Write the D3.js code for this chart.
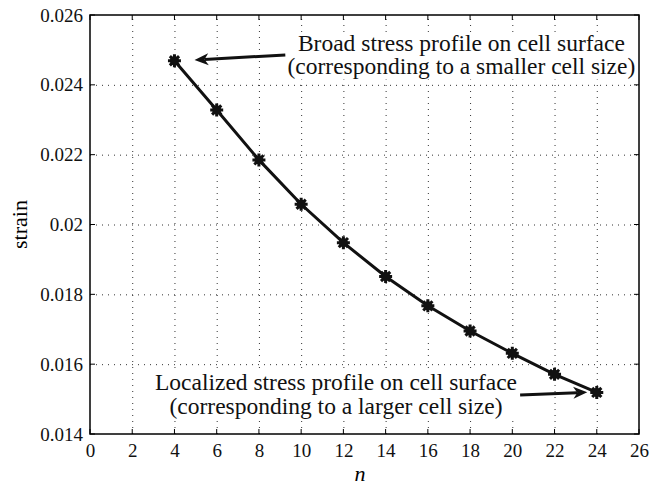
<!DOCTYPE html>
<html>
<head>
<meta charset="utf-8">
<script src="https://cdn.jsdelivr.net/npm/d3@7"></script>
<style>
  body { margin: 0; background: #fff; }
  svg text { font-family: "Liberation Serif", "DejaVu Serif", serif; }
</style>
</head>
<body>
<svg id="chart"></svg>
<script>
// chart values
const nValues = [4, 6, 8, 10, 12, 14, 16, 18, 20, 22, 24];
const strainValues = [0.02469, 0.02328, 0.02185, 0.02058, 0.01948, 0.01851, 0.01767, 0.01695, 0.01631, 0.01571, 0.01519];
const xTicks = d3.range(0, 27, 2);
const yTicks = [0.014, 0.016, 0.018, 0.02, 0.022, 0.024, 0.026];
const yTickLabels = ["0.014", "0.016", "0.018", "0.02", "0.022", "0.024", "0.026"];

// annotations (data units): text centre x, first baseline y, arrow start -> tip
const notes = [
  { lines: ["Broad stress profile on cell surface", "(corresponding to a smaller cell size)"],
    cx: 17.59, top: 0.02497, from: [9.25, 0.024855], to: [4.95, 0.02471] },
  { lines: ["Localized stress profile on cell surface", "(corresponding to a larger cell size)"],
    cx: 11.65, top: 0.01526, from: [20.37, 0.015117], to: [23.55, 0.015194] }
];

const width = 663, height = 485;
const margin = { top: 15, right: 24, bottom: 51, left: 90 };
const serif = "Liberation Serif, DejaVu Serif, serif";

const svg = d3.select("#chart").attr("width", width).attr("height", height);

const x = d3.scaleLinear().domain([0, 26]).range([margin.left, width - margin.right]);
const y = d3.scaleLinear().domain([0.014, 0.026]).range([height - margin.bottom, margin.top]);

const x0 = x.range()[0], x1 = x.range()[1];
const y0 = y.range()[0], y1 = y.range()[1];

// grid
const grid = svg.append("g")
  .attr("stroke", "#333")
  .attr("stroke-width", 1)
  .attr("stroke-dasharray", "1,5");
grid.selectAll(".gx").data(xTicks.slice(1, -1)).join("line")
  .attr("x1", d => x(d) + 0.5).attr("x2", d => x(d) + 0.5)
  .attr("y1", y0).attr("y2", y1);
grid.selectAll(".gy").data(yTicks.slice(1, -1)).join("line")
  .attr("y1", d => y(d) + 0.5).attr("y2", d => y(d) + 0.5)
  .attr("x1", x0).attr("x2", x1);

// inner ticks on all sides
const tickLen = 5;
const ticks = svg.append("g").attr("stroke", "#000").attr("stroke-width", 1);
xTicks.forEach(d => {
  ticks.append("line").attr("x1", x(d)).attr("x2", x(d)).attr("y1", y0).attr("y2", y0 - tickLen);
  ticks.append("line").attr("x1", x(d)).attr("x2", x(d)).attr("y1", y1).attr("y2", y1 + tickLen);
});
yTicks.forEach(d => {
  ticks.append("line").attr("y1", y(d)).attr("y2", y(d)).attr("x1", x0).attr("x2", x0 + tickLen);
  ticks.append("line").attr("y1", y(d)).attr("y2", y(d)).attr("x1", x1).attr("x2", x1 - tickLen);
});

// tick labels via axis generators
const xAxis = svg.append("g")
  .attr("transform", `translate(0,${y0})`)
  .call(d3.axisBottom(x).tickValues(xTicks).tickSize(0).tickPadding(10).tickFormat(d3.format("d")));
const yAxis = svg.append("g")
  .attr("transform", `translate(${x0},0)`)
  .call(d3.axisLeft(y).tickValues(yTicks).tickSize(0).tickPadding(7)
    .tickFormat((d, i) => yTickLabels[i]));
[xAxis, yAxis].forEach(a => {
  a.attr("font-family", serif).attr("font-size", 19);
  a.select(".domain").remove();
  a.selectAll("text").attr("fill", "#111");
});

// box
svg.append("rect")
  .attr("x", x0).attr("y", y1)
  .attr("width", x1 - x0).attr("height", y0 - y1)
  .attr("fill", "none").attr("stroke", "#000").attr("stroke-width", 1.5);

// axis titles
svg.append("text")
  .attr("x", 360).attr("y", 481)
  .attr("text-anchor", "middle")
  .attr("font-family", serif)
  .attr("font-size", 22).attr("font-style", "italic")
  .text("n");
svg.append("text")
  .attr("transform", `translate(27,${(y0 + y1) / 2}) rotate(-90)`)
  .attr("text-anchor", "middle")
  .attr("font-family", serif)
  .attr("font-size", 22)
  .text("strain");

// line
const pts = nValues.map((n, i) => [n, strainValues[i]]);
svg.append("path")
  .datum(pts)
  .attr("fill", "none")
  .attr("stroke", "#111")
  .attr("stroke-width", 3)
  .attr("d", d3.line().x(d => x(d[0])).y(d => y(d[1])));

// asterisk markers
function star(r) {
  const p = d3.path();
  for (let k = 0; k < 4; k++) {
    const a = k * Math.PI / 4;
    p.moveTo(-r * Math.cos(a), -r * Math.sin(a));
    p.lineTo(r * Math.cos(a), r * Math.sin(a));
  }
  return p.toString();
}
const mk = svg.append("g").selectAll("g").data(pts).join("g")
  .attr("transform", d => `translate(${x(d[0])},${y(d[1])})`);
mk.append("path").attr("d", star(6.5)).attr("stroke", "#111").attr("stroke-width", 3).attr("stroke-linecap", "butt");
mk.append("circle").attr("r", 4.5).attr("fill", "#111");

// annotations
function arrow(g, from, to) {
  const [ax, ay] = [x(from[0]), y(from[1])];
  const [bx, by] = [x(to[0]), y(to[1])];
  const ang = Math.atan2(by - ay, bx - ax);
  const L = 14, W = 6, back = 10;
  const ux = Math.cos(ang), uy = Math.sin(ang);
  const bxs = bx - ux * back, bys = by - uy * back;
  g.append("line")
    .attr("x1", ax).attr("y1", ay).attr("x2", bxs).attr("y2", bys)
    .attr("stroke", "#111").attr("stroke-width", 3);
  const hx = bx - ux * L, hy = by - uy * L;
  const head = [
    [bx, by],
    [hx - uy * W, hy + ux * W],
    [bxs, bys],
    [hx + uy * W, hy - ux * W]
  ];
  g.append("path").attr("d", d3.line()(head) + "Z").attr("fill", "#111");
}

notes.forEach(nt => {
  const g = svg.append("g");
  const bg = g.append("rect").attr("fill", "#fff");
  const t = g.append("text")
    .attr("text-anchor", "middle")
    .attr("font-family", serif)
    .attr("font-size", 23.5)
    .attr("fill", "#111");
  nt.lines.forEach((ln, i) => {
    t.append("tspan").attr("x", x(nt.cx)).attr("y", y(nt.top) + i * 23.5).text(ln);
  });
  const bb = t.node().getBBox();
  bg.attr("x", bb.x - 2).attr("y", bb.y + 2).attr("width", bb.width + 4).attr("height", bb.height - 2);
  arrow(g, nt.from, nt.to);
});
</script>
</body>
</html>
